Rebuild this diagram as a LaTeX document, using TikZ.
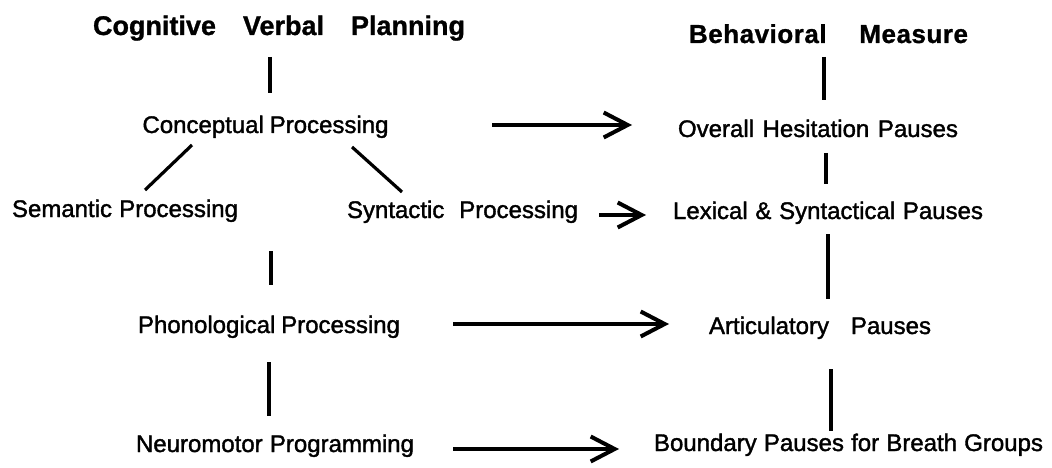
\documentclass[tikz,border=0pt]{standalone}
\usepackage{fontspec}
\setmainfont{Liberation Sans}
\usetikzlibrary{arrows.meta}
\newcommand\spreadtext[2]{\makebox[#1][s]{#2}}
\begin{document}
\begin{tikzpicture}[x=1pt,y=-1pt,
  lbl/.style={anchor=base,inner sep=0pt,font=\fontsize{24}{29}\selectfont\addfontfeatures{FakeBold=1.5}},
  ttlL/.style={anchor=base,inner sep=0pt,font=\fontsize{27}{32}\selectfont\bfseries\addfontfeatures{FakeBold=1}},
  ttlR/.style={anchor=base,inner sep=0pt,font=\fontsize{26}{31}\selectfont\bfseries\addfontfeatures{LetterSpace=2,FakeBold=1}},
  conn/.style={line width=3.2pt},
  arr/.style={line width=3.2pt,-{Straight Barb[length=24pt,width=25pt,line width=4pt]}}]
\useasboundingbox[fill=white] (0,0) rectangle (1052,468);

% nodes
\node[ttlL] (tL) at (279,35) {\spreadtext{372pt}{Cognitive Verbal Planning}};
\node[ttlR] (tR) at (828.5,43) {\spreadtext{279pt}{Behavioral Measure}};
\node[lbl] (cp) at (265.5,133) {\spreadtext{246pt}{Conceptual Processing}};
\node[lbl] (ov) at (818,137) {\spreadtext{280pt}{Overall Hesitation Pauses}};
\node[lbl] (se) at (125,217) {\spreadtext{226pt}{Semantic Processing}};
\node[lbl] (sy) at (462.5,218) {\spreadtext{231pt}{Syntactic Processing}};
\node[lbl] (lx) at (828,219) {\spreadtext{310pt}{Lexical \& Syntactical Pauses}};
\node[lbl] (ph) at (269,333) {\spreadtext{262pt}{Phonological Processing}};
\node[lbl] (ar) at (820,334) {\spreadtext{222pt}{Articulatory Pauses}};
\node[lbl] (ne) at (275,452) {\spreadtext{278pt}{Neuromotor Programming}};
\node[lbl] (bo) at (848.5,451) {\spreadtext{389pt}{Boundary Pauses for Breath Groups}};

% connectors
\draw[conn] ([shift={(-9,22)}]tL.base) -- ([shift={(4.5,-40)}]cp.base);
\draw[conn] ([shift={(-4.5,14)}]tR.base) -- ([shift={(6,-37)}]ov.base);
\draw[conn] ([shift={(-73.5,12)}]cp.base) -- ([shift={(20,-27)}]se.base);
\draw[conn] ([shift={(86.5,14)}]cp.base) -- ([shift={(-60.5,-26)}]sy.base);
\draw[conn] ([shift={(8,16)}]ov.base) -- ([shift={(-2,-35)}]lx.base);
\draw[conn] ([shift={(5.5,118)}]cp.base) -- ([shift={(2,-48)}]ph.base);
\draw[conn] ([shift={(0,15)}]lx.base) -- ([shift={(8,-35)}]ar.base);
\draw[conn] ([shift={(0,29)}]ph.base) -- ([shift={(-6,-36)}]ne.base);
\draw[conn] ([shift={(11,35)}]ar.base) -- ([shift={(-17.5,-20)}]bo.base);

\draw[arr] ([shift={(226.5,-8)}]cp.base) -- ([shift={(-186,-12)}]ov.base);
\draw[arr] ([shift={(136.5,-3)}]sy.base) -- ([shift={(-182,-4)}]lx.base);
\draw[arr] ([shift={(184,-9)}]ph.base) -- ([shift={(-151,-10)}]ar.base);
\draw[arr] ([shift={(178,-3)}]ne.base) -- ([shift={(-229.5,-2)}]bo.base);
\end{tikzpicture}
\end{document}
